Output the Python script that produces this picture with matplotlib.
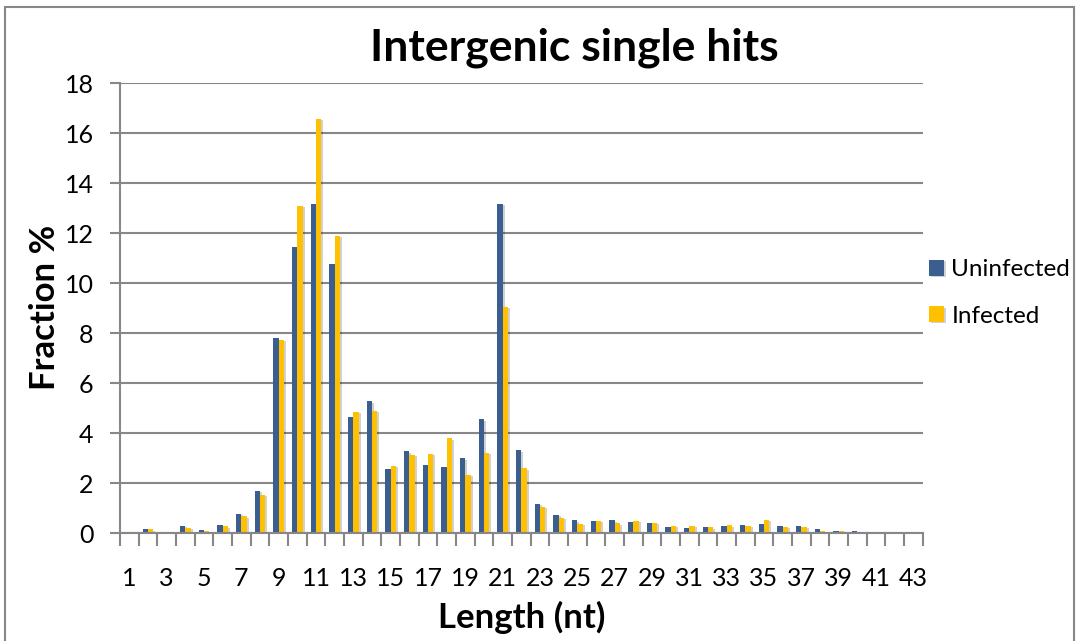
import matplotlib
matplotlib.use("Agg")
import matplotlib.pyplot as plt
import matplotlib.patheffects as pe
from matplotlib.patches import Rectangle
import numpy as np

lengths = list(range(1, 44))
uninfected = [0.05, 0.17, 0.0, 0.29, 0.12, 0.33, 0.77, 1.69, 7.8, 11.45, 13.18, 10.77,
              4.67, 5.28, 2.57, 3.28, 2.72, 2.64, 3.0, 4.56, 13.18, 3.32, 1.17, 0.73,
              0.52, 0.49, 0.52, 0.44, 0.41, 0.25, 0.21, 0.24, 0.29, 0.33, 0.37, 0.29,
              0.29, 0.16, 0.11, 0.08, 0.05, 0.04, 0.0]
infected = [0.05, 0.16, 0.04, 0.21, 0.11, 0.28, 0.68, 1.55, 7.73, 13.09, 16.57, 11.9,
            4.85, 4.89, 2.69, 3.13, 3.17, 3.8, 2.33, 3.21, 9.07, 2.6, 1.05, 0.61,
            0.37, 0.49, 0.40, 0.49, 0.41, 0.29, 0.29, 0.24, 0.32, 0.29, 0.53, 0.25,
            0.25, 0.09, 0.11, 0.05, 0.05, 0.05, 0.0]
yticks = list(range(0, 19, 2))

plt.rcParams['font.family'] = ['Lato', 'DejaVu Sans']

W, H = 1079, 641
fig = plt.figure(figsize=(W / 100, H / 100), dpi=100)
ax = fig.add_axes([120 / W, (H - 533.3) / H, (922.7 - 120) / W, 450 / H])

blue = '#395E8F'
yellow = '#FFC000'
gray = '#878787'

x = np.array(lengths, dtype=float)
bw = 1 / 3.5
shadow = [pe.SimplePatchShadow(offset=(1.5, -1.0), shadow_rgbFace='#000000', alpha=0.18), pe.Normal()]
b1 = ax.bar(x - bw / 2, uninfected, width=bw, color=blue, label='Uninfected', zorder=3)
b2 = ax.bar(x + bw / 2, infected, width=bw, color=yellow, label='Infected', zorder=3)
for b in list(b1) + list(b2):
    b.set_path_effects(shadow)

ax.set_xlim(0.5, 43.5)
ax.set_ylim(0, 18)
ax.set_yticks(yticks)
ax.set_xticks(lengths[::2])
ax.set_xticks(np.arange(0.5, 44, 1), minor=True)
ax.tick_params(axis='x', which='major', length=0, pad=24, labelsize=18)
ax.tick_params(axis='x', which='minor', length=9, width=1.5, color=gray, direction='out')
ax.tick_params(axis='y', which='major', length=7, width=1.5, color=gray, pad=12, labelsize=18)
ax.yaxis.grid(True, color=gray, linewidth=1.5, zorder=0)
ax.set_axisbelow(True)
for s in ['top', 'right']:
    ax.spines[s].set_visible(False)
for s in ['left', 'bottom']:
    ax.spines[s].set_color(gray)
    ax.spines[s].set_linewidth(1.5)
    ax.spines[s].set_zorder(4)

fig.text(574.5 / W, 1 - 48 / H, 'Intergenic single hits', ha='center', va='center',
         fontsize=32, fontweight='bold')
fig.text(45 / W, 1 - 307 / H, 'Fraction %', ha='center', va='center', rotation=90,
         fontsize=25, fontweight='bold')
fig.text(522 / W, 1 - 617 / H, 'Length (nt)', ha='center', va='center',
         fontsize=25, fontweight='bold')

leg = fig.legend(handles=[b1, b2], labels=['Uninfected', 'Infected'],
                 loc='center left', bbox_to_anchor=(929 / W, 1 - 293 / H),
                 frameon=False, fontsize=17.5, handlelength=0.62, handleheight=0.62,
                 handletextpad=0.3, labelspacing=1.05, borderpad=0, borderaxespad=0)

fig.add_artist(Rectangle((5 / W, -0.02), (1074 - 5) / W, (H - 7) / H + 0.02,
                         transform=fig.transFigure, fill=False, edgecolor=gray,
                         linewidth=1.5))

fig.savefig('out.png', dpi=100)
